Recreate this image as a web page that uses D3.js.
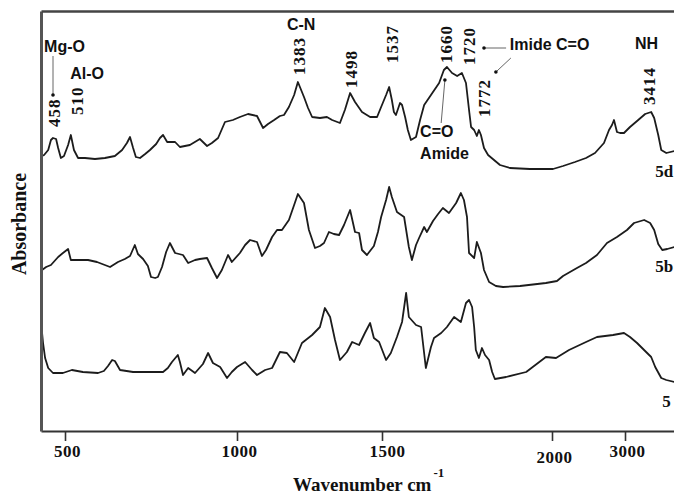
<!DOCTYPE html>
<html>
<head>
<meta charset="utf-8">
<script src="https://cdn.jsdelivr.net/npm/d3@7"></script>
<style>
  body { margin: 0; background: #fff; }
  svg { display: block; }
</style>
</head>
<body>
<div id="grafica-ftir"></div>
<script>
// wavenumber (cm-1) and absorbance (a.u.)
const wave_5d = [433,439,451,459,465,474,480,488,497,509,517,526,538,558,587,616,645,666,680,689,698,706,718,733,747,765,776,785,797,820,834,863,892,913,927,945,965,988,1010,1038,1069,1090,1107,1128,1148,1162,1179,1197,1210,1231,1245,1259,1286,1310,1328,1355,1372,1390,1407,1431,1459,1483,1497,1512,1521,1529,1535,1541,1553,1559,1568,1576,1585,1600,1612,1624,1644,1668,1682,1691,1706,1721,1735,1747,1756,1762,1771,1779,1785,1791,1800,1812,1826,1847,1876,1935,2014,2151,2315,2466,2589,2712,2781,2822,2849,2890,2932,2986,3068,3164,3274,3356,3397,3452,3493,3562,3671]
const abs_5d = [275,276,281,291,293,292,283,273,275,286,296,281,273,273,272,273,275,281,288,294,283,274,273,277,281,287,293,296,289,289,284,286,292,285,288,293,309,311,314,317,315,303,307,311,315,316,324,336,349,334,323,314,313,314,311,308,321,338,329,319,314,314,324,336,344,331,319,316,328,326,314,301,291,294,311,326,336,348,361,364,358,355,358,348,321,304,301,295,301,296,283,276,272,266,263,262,262,265,269,273,278,288,301,306,311,299,298,298,304,310,317,319,313,296,281,278,280]

const wave_5b = [433,445,459,480,494,509,517,538,567,593,631,654,674,689,703,712,727,741,750,762,770,782,794,805,820,843,858,878,892,913,927,942,956,974,985,1010,1028,1045,1069,1086,1100,1121,1138,1155,1179,1197,1210,1231,1248,1269,1286,1300,1317,1334,1352,1369,1390,1407,1421,1431,1448,1472,1486,1497,1512,1521,1529,1544,1565,1579,1588,1600,1609,1624,1632,1650,1665,1679,1697,1718,1732,1741,1750,1756,1771,1779,1791,1800,1815,1835,1856,1906,1982,2068,2151,2342,2466,2616,2753,2890,3027,3123,3260,3342,3397,3452,3507,3575,3671]
const abs_5b = [161,164,166,174,178,182,171,171,171,169,164,169,172,175,186,177,172,165,154,153,154,164,179,188,178,176,168,171,172,173,163,153,161,176,169,178,186,191,189,175,181,194,201,201,211,226,237,228,201,183,185,188,199,197,196,206,221,199,198,181,176,185,199,214,231,244,234,219,214,184,171,186,193,204,199,210,217,223,218,228,238,231,214,178,173,189,178,161,149,145,144,145,148,150,155,163,168,176,188,194,201,208,211,208,201,187,181,182,184]

const wave_5 = [430,436,442,451,465,494,520,552,596,613,625,637,645,660,698,747,785,799,811,828,834,843,858,878,901,916,930,951,971,985,1000,1028,1052,1069,1097,1121,1148,1172,1197,1224,1259,1286,1303,1321,1338,1355,1379,1397,1421,1441,1459,1472,1490,1512,1526,1544,1559,1571,1579,1600,1615,1629,1644,1653,1674,1691,1712,1732,1747,1756,1765,1771,1776,1785,1794,1803,1815,1824,1832,1865,1924,1982,2055,2233,2466,2616,2836,2986,3068,3164,3301,3356,3411,3493,3562,3671]
const abs_5 = [109,88,73,63,58,58,61,59,58,60,65,71,70,61,59,59,59,63,69,76,69,56,63,58,67,78,68,64,53,59,64,69,61,56,61,63,79,78,69,88,96,104,123,114,91,71,79,89,86,98,108,93,89,71,78,94,109,138,114,106,104,63,84,93,98,104,114,109,128,131,124,104,81,73,83,76,71,59,52,54,59,74,73,81,89,94,96,98,94,88,78,74,64,53,51,49]

const series_names = ['5d', '5b', '5']
const tick_values = [500, 1000, 1500, 2000, 3000]

// peak numbers (rotated) : text, wavenumber, absorbance at the foot of the text
const peak_labels = [['458',485,304],['510',552,316],['1383',1234,356],['1498',1414,343],['1537',1547,368],['1660',1706,368],['1720',1774,366],['1772',1818,314],['3414',3411,326]]
// group labels
const band_labels = [['Mg-O',439,379],['Al-O',515,352],['C-N',1172,401],['Imide C=O',1876,381],['NH',3137,382],['C=O',1612,294],['Amide',1612,272]]
const curve_labels = [['5d',3411,254],['5b',3411,159],['5',3507,24]]
// pointers [w1,a1,w2,a2] with dot at the second end
const pointers = [[465,375,465,336],[1865,383,1800,383],[1879,373,1835,359],[1674,308,1685,351]]

const width = 674
const height = 497
const margin = { top: 11, right: 0, bottom: 66, left: 41 }
const inkColor = '#1c1c1c'
const serif = '"Liberation Serif", "Times New Roman", serif'
const sans = '"Liberation Sans", Arial, sans-serif'

const svg = d3.select('#grafica-ftir')
    .append('svg')
    .attr('width', width)
    .attr('height', height)

// broken wavenumber axis, so piecewise linear
const x = d3.scaleLinear()
    .domain([430, 500, 1000, 1500, 2000, 3000, 3680])
    .range([41, 65, 237, 382, 552, 625, 675])

const y = d3.scaleLinear()
    .domain([0, 420])
    .range([height - margin.bottom, margin.top])

const line = d3.line()
    .x(d => x(d[0]))
    .y(d => y(d[1]))

const curves = [d3.zip(wave_5d, abs_5d), d3.zip(wave_5b, abs_5b), d3.zip(wave_5, abs_5)]

svg.selectAll('.espectro')
    .data(curves)
    .enter().append('path')
    .attr('class', 'espectro')
    .attr('d', line)
    .attr('fill', 'none')
    .attr('stroke', inkColor)
    .attr('stroke-width', 1.8)
    .attr('stroke-linejoin', 'round')

// axes
const xAxis = svg.append('g')
    .attr('class', 'x axis')
    .attr('transform', `translate(0, ${height - margin.bottom})`)
    .call(d3.axisBottom(x).tickValues(tick_values).tickFormat(d3.format('d')).tickSize(10).tickSizeOuter(0).tickPadding(4))

xAxis.select('.domain').attr('stroke', '#333').attr('stroke-width', 2.2)
xAxis.selectAll('.tick line').attr('stroke', '#333').attr('stroke-width', 1.6)
xAxis.selectAll('.tick text')
    .style('font-family', serif)
    .style('font-weight', 'bold')
    .style('font-size', '17px')
    .style('letter-spacing', '0.5px')
    .attr('fill', '#111')
    .attr('dx', d => d === 1500 ? 5 : 2)
    .attr('dy', d => d === 2000 ? '1.05em' : '0.71em')

const yAxis = svg.append('g')
    .attr('class', 'y axis')
    .attr('transform', `translate(${margin.left}, 0)`)
    .call(d3.axisLeft(y).tickValues([]).tickSizeOuter(0))
yAxis.select('.domain').attr('stroke', '#555').attr('stroke-width', 3)

const topAxis = svg.append('g')
    .attr('transform', `translate(0, ${margin.top})`)
    .call(d3.axisTop(x).tickValues([]).tickSizeOuter(0))
topAxis.select('.domain').attr('stroke', '#444').attr('stroke-width', 2.5)

// axis titles
svg.append('text')
    .attr('transform', `translate(26, ${(margin.top + height - margin.bottom) / 2 + 3}) rotate(-90)`)
    .style('text-anchor', 'middle')
    .style('font-family', serif)
    .style('font-weight', 'bold')
    .style('font-size', '20px')
    .attr('fill', '#111')
    .text('Absorbance')

const xTitle = svg.append('text')
    .attr('x', 293)
    .attr('y', 491)
    .style('font-family', serif)
    .style('font-weight', 'bold')
    .style('font-size', '19px')
    .attr('fill', '#111')
xTitle.append('tspan').text('Wavenumber cm')
xTitle.append('tspan').attr('dy', -14).attr('dx', 2).style('font-size', '13px').text('-1')

// annotations
svg.selectAll('.pico')
    .data(peak_labels)
    .enter().append('text')
    .attr('class', 'pico')
    .attr('transform', d => `translate(${x(d[1])}, ${y(d[2])}) rotate(-90)`)
    .style('font-family', serif)
    .style('font-weight', 'bold')
    .style('font-size', '17px')
    .style('letter-spacing', '1px')
    .attr('fill', '#111')
    .text(d => d[0])

svg.selectAll('.banda')
    .data(band_labels)
    .enter().append('text')
    .attr('class', 'banda')
    .attr('x', d => x(d[1]))
    .attr('y', d => y(d[2]))
    .style('font-family', sans)
    .style('font-weight', 'bold')
    .style('font-size', '16px')
    .attr('fill', '#111')
    .text(d => d[0])

svg.selectAll('.muestra')
    .data(curve_labels)
    .enter().append('text')
    .attr('class', 'muestra')
    .attr('x', d => x(d[1]))
    .attr('y', d => y(d[2]))
    .style('font-family', serif)
    .style('font-weight', 'bold')
    .style('font-size', '17px')
    .attr('fill', '#111')
    .text(d => d[0])

svg.selectAll('.flecha')
    .data(pointers)
    .enter().append('line')
    .attr('class', 'flecha')
    .attr('x1', d => x(d[0]))
    .attr('y1', d => y(d[1]))
    .attr('x2', d => x(d[2]))
    .attr('y2', d => y(d[3]))
    .attr('stroke', '#666')
    .attr('stroke-width', 1)

svg.selectAll('.punto')
    .data(pointers)
    .enter().append('circle')
    .attr('class', 'punto')
    .attr('cx', d => x(d[2]))
    .attr('cy', d => y(d[3]))
    .attr('r', 1.8)
    .attr('fill', '#111')
</script>
</body>
</html>
